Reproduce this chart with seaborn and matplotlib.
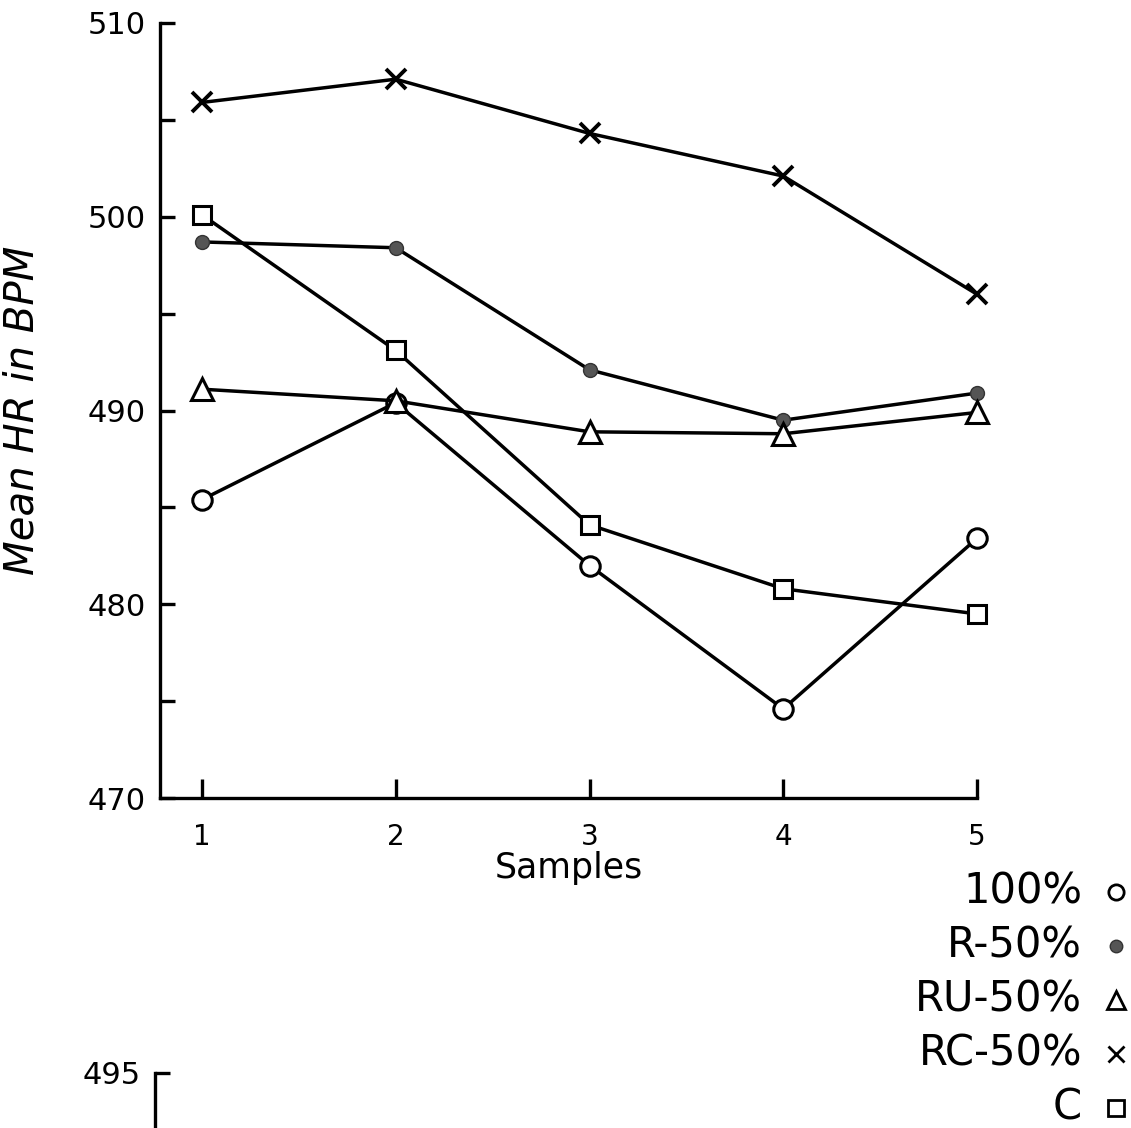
import matplotlib
matplotlib.use("Agg")
import matplotlib.pyplot as plt
import seaborn as sns
import pandas as pd
from matplotlib.lines import Line2D

sns.set_style("ticks")
plt.rcParams['font.family'] = ['DejaVu Sans']
plt.rcParams.update({'text.color': 'black', 'axes.labelcolor': 'black',
                     'xtick.color': 'black', 'ytick.color': 'black',
                     'axes.edgecolor': 'black'})

# data
samples = [1, 2, 3, 4, 5]
hr_100 = [485.4, 490.4, 482.0, 474.6, 483.4]
hr_r50 = [498.7, 498.4, 492.1, 489.5, 490.9]
hr_ru50 = [491.1, 490.5, 488.9, 488.8, 489.9]
hr_rc50 = [505.9, 507.1, 504.3, 502.1, 496.0]
hr_c = [500.1, 493.1, 484.1, 480.8, 479.5]

groups = ['100%', 'R-50%', 'RU-50%', 'RC-50%', 'C']
y_ticks = [470, 475, 480, 485, 490, 495, 500, 505, 510]
y_ticklabels = ['470', '', '480', '', '490', '', '500', '', '510']
x_ticklabels = ['1', '2', '3', '4', '5']

df = pd.DataFrame({
    'sample': samples * 5,
    'hr': hr_100 + hr_r50 + hr_ru50 + hr_rc50 + hr_c,
    'group': [g for g in groups for _ in samples],
})

# marker style per group (plot, legend)
styles = {
    '100%': dict(marker='o', ms=14, mfc='white', mec='k', mew=2.2),
    'R-50%': dict(marker='o', ms=10, mfc='#555555', mec='#333333', mew=1.0),
    'RU-50%': dict(marker='^', ms=16, mfc='white', mec='k', mew=2.2),
    'RC-50%': dict(marker='x', ms=15, mfc='k', mec='k', mew=2.8),
    'C': dict(marker='s', ms=13, mfc='white', mec='k', mew=2.2),
}
legend_sizes = {'100%': 11, 'R-50%': 9, 'RU-50%': 13, 'RC-50%': 12, 'C': 11}

W, H = 1131, 1128
fig = plt.figure(figsize=(W / 100, H / 100), dpi=100)
fig.patch.set_facecolor('white')

ax = fig.add_axes([160 / W, 1 - 798 / H, 817 / W, 775 / H])

for g in groups:
    st = styles[g]
    sns.lineplot(data=df[df.group == g], x='sample', y='hr', ax=ax,
                 color='k', lw=2.5, legend=False, clip_on=False,
                 marker=st['marker'], markersize=st['ms'],
                 markerfacecolor=st['mfc'], markeredgecolor=st['mec'],
                 markeredgewidth=st['mew'])

ax.set_xlim(1 - 42 / 193.75, 5)
ax.set_ylim(470, 510)
ax.set_yticks(y_ticks)
ax.set_yticklabels(y_ticklabels)
ax.set_xticks(samples)
ax.set_xticklabels(x_ticklabels)
sns.despine(ax=ax)
for sp in ['left', 'bottom']:
    ax.spines[sp].set_linewidth(2.4)
ax.tick_params(axis='y', direction='in', length=11, width=2.4, pad=10,
               labelsize=22)
ax.tick_params(axis='x', direction='in', length=14, width=2.4, pad=18,
               labelsize=20)
ax.set_xlabel('Samples', fontsize=25, labelpad=0)
ax.set_ylabel('Mean HR in BPM', fontsize=29, style='italic')
ax.yaxis.set_label_coords(-0.145, 0.5)

# legend written as a column of labels with symbols on the right
for i, g in enumerate(groups):
    yc = 1 - (892 + 54 * i) / H
    fig.text(1082 / W, yc, g, ha='right', va='center', fontsize=30)
    st = styles[g]
    fig.add_artist(Line2D([1116 / W], [yc], transform=fig.transFigure,
                          marker=st['marker'], ms=legend_sizes[g],
                          mfc=st['mfc'], mec=st['mec'],
                          mew=min(st['mew'], 2.0), ls='none'))

# top of the next panel, cut off by the page edge
ax2 = fig.add_axes([155 / W, -0.3, 0.6, 0.3 + (1 - 1073 / H)])
ax2.set_ylim(470, 495)
ax2.set_yticks([495])
ax2.set_xticks([])
sns.despine(ax=ax2, bottom=True)
ax2.spines['left'].set_linewidth(2.4)
ax2.tick_params(axis='y', direction='in', length=11, width=2.4, pad=10,
                labelsize=22)
ax2.patch.set_alpha(0)

fig.savefig('out.png', dpi=100, facecolor='white')
